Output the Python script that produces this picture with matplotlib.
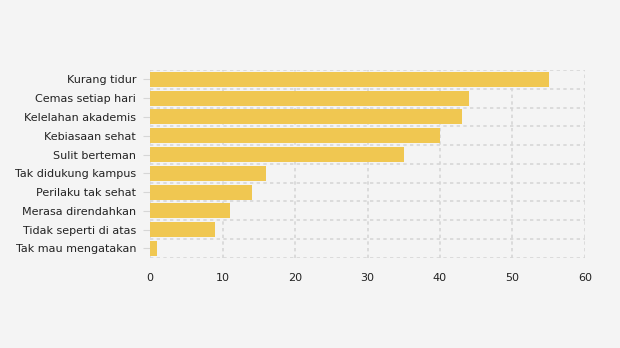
import matplotlib.pyplot as plt
import numpy as np

categories = ["Kurang tidur", "Cemas setiap hari", "Kelelahan akademis", "Kebiasaan sehat",
              "Sulit berteman", "Tak didukung kampus", "Perilaku tak sehat",
              "Merasa direndahkan", "Tidak seperti di atas", "Tak mau mengatakan"]
values = [55, 44, 43, 40, 35, 16, 14, 11, 9, 1]
x_ticks = [0, 10, 20, 30, 40, 50, 60]

bg = "#f4f4f4"
fig = plt.figure(figsize=(6.2, 3.48), dpi=100, facecolor=bg)
ax = fig.add_axes([0.242, 0.259, 0.7015, 0.54], facecolor=bg)

pos = np.arange(len(categories))
ax.barh(pos, values, height=0.8, color="#f0c751", zorder=2)

ax.set_xlim(0, 60)
ax.set_ylim(len(categories) - 0.5, -0.5)
ax.set_xticks(x_ticks)
ax.set_yticks(pos)
ax.set_yticklabels(categories)

# dotted grid on category boundaries and value ticks
grid_kw = dict(color="#d6d6d6", linestyle=(0, (2, 2)), linewidth=1.2, zorder=1)
for x in x_ticks:
    ax.axvline(x, **grid_kw)
for y in np.arange(-0.5, len(categories), 1.0):
    ax.axhline(y, **grid_kw)

for s in ax.spines.values():
    s.set_visible(False)

ax.tick_params(axis="y", length=5, color="#d6d6d6", labelsize=8,
               labelcolor="#222222", pad=5)
ax.tick_params(axis="x", length=0, labelsize=8, labelcolor="#222222", pad=11)

plt.savefig("out.png", dpi=100, facecolor=bg)
